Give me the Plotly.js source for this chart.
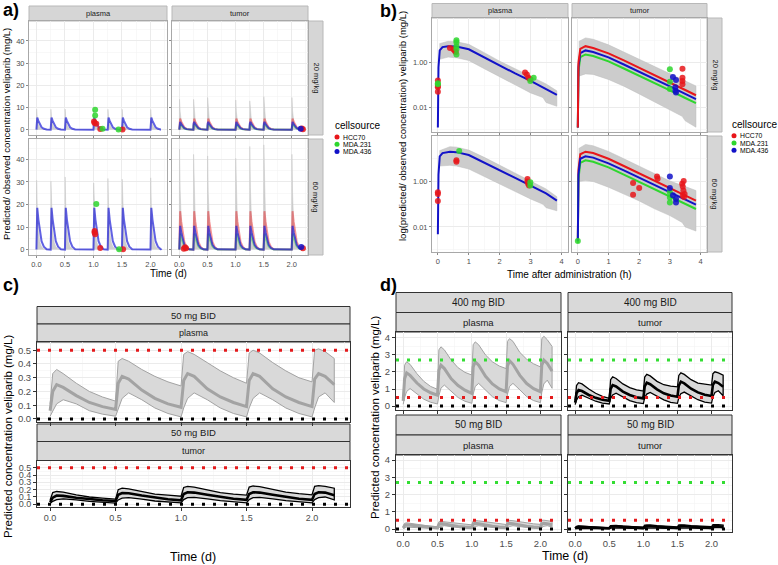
<!DOCTYPE html>
<html>
<head>
<meta charset="utf-8">
<script src="https://cdn.plot.ly/plotly-3.0.1.min.js"></script>
<style>
  html, body { margin: 0; padding: 0; background: #fff; }
  #chart { width: 778px; height: 565px; }
</style>
</head>
<body>
<div id="chart"></div>
<script>
// ---------- a) repeated dosing, predicted vs observed (mg/L) ----------
const aDoseDays = [0, 0.25, 0.5, 1.0, 1.25, 1.5, 2.0];
const aEndDay = 2.17;
const spikeOffsets = [0, 0.004, 0.015, 0.035, 0.06, 0.09, 0.13, 0.18];
const spikeBandShape = [0, 1, 0.6, 0.28, 0.11, 0.04, 0.01, 0];
const spikeLineShape = [0, 0.75, 1, 0.72, 0.42, 0.2, 0.07, 0.01];

const aPlasma20Band = [9.2, 9.2, 9.3, 9.0, 9.2, 9.2, 9.1];
const aPlasma20Line = [5.5, 5.5, 5.5, 5.5, 5.5, 5.5, 5.5];
const aTumor20Band = [13.7, 13.7, 14.5, 13.4, 13.0, 14.9, 14.5];
const aTumor20Red = [5.0, 5.0, 5.0, 5.0, 5.0, 5.0, 5.0];
const aTumor20Blue = [3.5, 3.5, 3.5, 3.5, 3.5, 3.5, 3.5];
const aTumor20Green = [2.5, 2.5, 2.5, 2.5, 2.5, 2.5, 2.5];
const aPlasma60Band = [30.7, 30.3, 32.2, 29.5, 31.5, 31.2, 31.8];
const aPlasma60Line = [18.5, 18.5, 18.5, 18.5, 18.5, 18.5, 18.5];
const aTumor60Band = [44.5, 42.2, 41.5, 40.4, 45.7, 46.4, 42.2];
const aTumor60Red = [17, 17, 17, 17, 17, 17, 17];
const aTumor60Blue = [10.5, 10.5, 10.5, 10.5, 10.5, 10.5, 10.5];
const aTumor60Green = [7, 7, 7, 7, 7, 7, 7];

const aObsP20RedT = [1.01, 1.02, 1.05, 1.12, 1.51];
const aObsP20RedY = [3.7, 3.0, 2.7, 0.3, 0.1];
const aObsP20GreenT = [1.03, 1.03, 1.16, 1.44];
const aObsP20GreenY = [9.0, 6.4, 0.4, 0.1];
const aObsP60RedT = [1.02, 1.02, 1.03, 1.12, 1.52];
const aObsP60RedY = [8.2, 7.6, 6.8, 0.7, 0.1];
const aObsP60GreenT = [1.05, 1.45];
const aObsP60GreenY = [20.2, 0.2];
const aObsT20RedT = [2.18, 2.2];
const aObsT20RedY = [0.5, 0.2];
const aObsT20BlueT = [2.16];
const aObsT20BlueY = [0.4];
const aObsT60RedT = [0.08, 0.1, 0.12, 2.2];
const aObsT60RedY = [0.4, 1.0, 0.6, 0.6];
const aObsT60BlueT = [2.17];
const aObsT60BlueY = [1.2];

// ---------- b) single dose, log scale (mg/L vs h) ----------
const bP20LineT = [0, 0.02, 0.06, 0.15, 0.33, 0.6, 1, 1.5, 2, 2.5, 3, 3.5, 3.85];
const bP20Line = [0.00126, 0.63, 3.55, 5.0, 5.5, 5.25, 3.98, 1.74, 0.71, 0.33, 0.155, 0.069, 0.036];
const bP20UpT = [0.05, 0.33, 0.6, 1, 1.5, 2, 2.5, 3, 3.5, 3.85];
const bP20Up = [7.08, 9.12, 8.71, 6.61, 2.82, 1.17, 0.54, 0.25, 0.112, 0.055];
const bP20LoT = [0.05, 0.33, 0.6, 1, 1.5, 2, 2.5, 3, 3.4, 3.5, 3.85];
const bP20Lo = [1.41, 1.78, 1.66, 1.26, 0.54, 0.224, 0.1, 0.0447, 0.0275, 0.0166, 0.0112];

const bP60LineT = [0, 0.02, 0.06, 0.15, 0.39, 0.6, 1, 1.5, 2, 2.5, 3, 3.5, 3.85];
const bP60Line = [0.0048, 2.0, 12.6, 17.8, 20.4, 19.5, 14.5, 6.9, 3.1, 1.45, 0.66, 0.3, 0.145];
const bP60UpT = [0.05, 0.39, 0.6, 1, 1.5, 2, 2.5, 3, 3.5, 3.85];
const bP60Up = [22.4, 33.9, 32.4, 24.0, 11.5, 5.25, 2.4, 1.07, 0.47, 0.214];
const bP60LoT = [0.05, 0.39, 0.6, 1, 1.5, 2, 2.5, 3, 3.4, 3.5, 3.85];
const bP60Lo = [4.79, 5.13, 4.79, 3.55, 1.66, 0.79, 0.363, 0.17, 0.1, 0.0708, 0.0513];

const bTumorLineT = [0, 0.02, 0.08, 0.25, 0.5, 1, 1.5, 2, 2.5, 3, 3.5, 3.85];
const bT20Red = [0.00126, 1.0, 4.17, 5.5, 4.57, 2.63, 1.26, 0.6, 0.28, 0.13, 0.06, 0.035];
const bT20Blue = [0.00126, 0.63, 2.69, 3.55, 3.02, 1.74, 0.83, 0.4, 0.186, 0.087, 0.04, 0.0234];
const bT20Green = [0.00126, 0.4, 1.78, 2.34, 2.0, 1.15, 0.55, 0.263, 0.123, 0.0575, 0.0263, 0.0155];
const bTumorUpT = [0.03, 0.25, 0.5, 1, 1.5, 2, 2.5, 3, 3.5, 3.85];
const bT20Up = [8.9, 12.9, 11.2, 6.3, 3.0, 1.45, 0.68, 0.316, 0.151, 0.091];
const bTumorLoT = [0.03, 0.25, 0.5, 1, 1.5, 2, 2.5, 3, 3.4, 3.5, 3.85];
const bT20Lo = [0.25, 0.316, 0.3, 0.178, 0.089, 0.04, 0.0178, 0.0079, 0.004, 0.0025, 0.0013];
const bT60Red = [0.0024, 3.16, 15.8, 20.4, 17.8, 10.0, 4.79, 2.29, 1.07, 0.5, 0.24, 0.145];
const bT60Blue = [0.0024, 2.0, 10.0, 12.9, 11.2, 6.3, 3.09, 1.48, 0.69, 0.324, 0.158, 0.0955];
const bT60Green = [0.002, 1.26, 6.6, 8.5, 7.4, 4.17, 2.0, 0.955, 0.447, 0.209, 0.102, 0.0617];
const bT60Up = [28.2, 42.7, 37.2, 20.9, 10.0, 4.79, 2.24, 1.05, 0.6, 0.4];
const bT60Lo = [1.0, 1.1, 1.0, 0.56, 0.28, 0.14, 0.063, 0.0316, 0.0158, 0.01, 0.0066];

const bObsP20RedT = [0, 0, 0, 0, 0.39, 0.5, 0.55, 0.58, 2.82, 2.88, 2.93, 2.99];
const bObsP20RedY = [0.16, 0.08, 0.05, 0.09, 4.6, 4.0, 3.3, 3.0, 0.36, 0.3, 0.21, 0.18];
const bObsP20GreenT = [0, 0, 0.6, 0.6, 0.6, 0.6, 0.6, 2.99, 3.1];
const bObsP20GreenY = [0.12, 0.11, 10, 8.3, 5.5, 4.0, 2.3, 0.15, 0.21];
const bObsP60RedT = [0, 0, 0, 0.6, 0.6, 2.9, 2.9, 2.92, 2.95];
const bObsP60RedY = [0.34, 0.28, 0.14, 8.5, 7.3, 1.3, 1.0, 0.8, 0.66];
const bObsP60GreenT = [0.69, 2.99, 2.99];
const bObsP60GreenY = [22, 0.93, 0.66];
const bObsT20RedT = [3.41, 3.41, 3.41, 3.41];
const bObsT20RedY = [0.54, 0.21, 0.15, 0.11];
const bObsT20GreenT = [3.0, 3.0, 3.0];
const bObsT20GreenY = [0.51, 0.14, 0.066];
const bObsT20BlueT = [3.1, 3.2, 3.18, 3.18, 3.2];
const bObsT20BlueY = [0.23, 0.17, 0.08, 0.055, 0.047];
const bObsT60RedT = [1.8, 1.8, 2.0, 2.58, 2.6, 3.4, 3.45, 3.42, 3.44, 3.48, 3.46, 3.42];
const bObsT60RedY = [0.85, 0.26, 0.52, 1.66, 1.32, 0.8, 1.05, 0.6, 0.4, 0.28, 0.21, 0.24];
const bObsT60GreenT = [3.0, 3.0, 3.0, 0];
const bObsT60GreenY = [0.34, 0.2, 0.12, 0.0024];
const bObsT60BlueT = [3.0, 3.0, 3.1, 3.2, 3.2];
const bObsT60BlueY = [1.66, 0.52, 0.25, 0.17, 0.12];

// ---------- c) / d) BID simulations (mg/L vs d) ----------
const bidTime = [0, 0.02, 0.05, 0.1, 0.2, 0.3, 0.4,
  0.5, 0.52, 0.55, 0.6, 0.7, 0.8, 0.9,
  1.0, 1.02, 1.05, 1.1, 1.2, 1.3, 1.4,
  1.5, 1.52, 1.55, 1.6, 1.7, 1.8, 1.9,
  2.0, 2.02, 2.05, 2.1, 2.17];

const p50Median = [0.06, 0.2, 0.25, 0.23, 0.17, 0.12, 0.09,
  0.07, 0.26, 0.31, 0.29, 0.21, 0.15, 0.11,
  0.085, 0.28, 0.33, 0.31, 0.22, 0.16, 0.12,
  0.09, 0.28, 0.33, 0.31, 0.22, 0.16, 0.12,
  0.09, 0.29, 0.33, 0.31, 0.25];
const p50Upper = [0.11, 0.33, 0.36, 0.33, 0.26, 0.2, 0.16,
  0.13, 0.42, 0.44, 0.42, 0.36, 0.31, 0.27,
  0.24, 0.47, 0.49, 0.47, 0.41, 0.35, 0.3,
  0.26, 0.48, 0.5, 0.48, 0.41, 0.35, 0.3,
  0.27, 0.5, 0.51, 0.49, 0.44];
const p50Lower = [0.02, 0.06, 0.11, 0.14, 0.11, 0.06, 0.035,
  0.02, 0.08, 0.15, 0.19, 0.14, 0.08, 0.04,
  0.015, 0.08, 0.15, 0.19, 0.14, 0.08, 0.04,
  0.015, 0.08, 0.15, 0.19, 0.14, 0.08, 0.04,
  0.015, 0.08, 0.16, 0.19, 0.12];

const t50Median = [0.03, 0.09, 0.12, 0.115, 0.09, 0.07, 0.055,
  0.045, 0.13, 0.155, 0.15, 0.12, 0.09, 0.07,
  0.055, 0.14, 0.165, 0.16, 0.13, 0.1, 0.075,
  0.06, 0.14, 0.165, 0.16, 0.13, 0.1, 0.075,
  0.06, 0.14, 0.165, 0.16, 0.125];
const t50Upper = [0.06, 0.16, 0.175, 0.165, 0.13, 0.1, 0.085,
  0.07, 0.2, 0.22, 0.21, 0.17, 0.14, 0.125,
  0.11, 0.23, 0.245, 0.235, 0.195, 0.16, 0.14,
  0.125, 0.235, 0.25, 0.24, 0.2, 0.165, 0.145,
  0.13, 0.245, 0.255, 0.245, 0.22];
const t50Lower = [0.01, 0.04, 0.065, 0.075, 0.06, 0.04, 0.025,
  0.015, 0.06, 0.085, 0.09, 0.07, 0.045, 0.03,
  0.02, 0.065, 0.09, 0.095, 0.075, 0.05, 0.032,
  0.02, 0.065, 0.09, 0.095, 0.075, 0.05, 0.032,
  0.02, 0.065, 0.09, 0.1, 0.06];

const p400Median = [0.3, 1.6, 1.95, 1.8, 1.35, 1.0, 0.78,
  0.64, 2.1, 2.4, 2.2, 1.6, 1.2, 0.93,
  0.74, 2.3, 2.6, 2.4, 1.75, 1.3, 1.0,
  0.84, 2.35, 2.66, 2.45, 1.8, 1.32, 1.02,
  0.84, 2.4, 2.7, 2.5, 2.05];
const p400Upper = [0.5, 2.4, 2.6, 2.45, 1.9, 1.45, 1.15,
  0.98, 3.3, 3.48, 3.3, 2.7, 2.25, 1.98,
  1.82, 3.6, 3.77, 3.6, 3.0, 2.6, 2.35,
  2.2, 3.8, 3.96, 3.8, 3.15, 2.75, 2.48,
  2.3, 3.95, 4.1, 3.9, 3.5];
const p400Lower = [0.1, 0.5, 0.85, 1.03, 0.7, 0.4, 0.22,
  0.12, 0.6, 1.05, 1.23, 0.85, 0.5, 0.28,
  0.16, 0.7, 1.15, 1.33, 0.95, 0.55, 0.32,
  0.2, 0.7, 1.15, 1.33, 0.95, 0.55, 0.32,
  0.2, 0.8, 1.3, 1.52, 1.04];

const t400Median = [0.2, 0.75, 0.94, 0.88, 0.65, 0.48, 0.37,
  0.31, 1.0, 1.23, 1.15, 0.85, 0.65, 0.52,
  0.45, 1.15, 1.37, 1.28, 0.98, 0.75, 0.62,
  0.55, 1.2, 1.43, 1.33, 1.02, 0.8, 0.66,
  0.59, 1.25, 1.43, 1.35, 1.13];
const t400Upper = [0.35, 1.2, 1.37, 1.3, 1.0, 0.75, 0.57,
  0.45, 1.55, 1.72, 1.62, 1.3, 1.08, 0.95,
  0.88, 1.7, 1.86, 1.77, 1.45, 1.25, 1.17,
  1.13, 1.8, 1.95, 1.86, 1.55, 1.35, 1.27,
  1.23, 1.9, 2.01, 1.95, 1.82];
const t400Lower = [0.08, 0.35, 0.55, 0.64, 0.45, 0.28, 0.17,
  0.12, 0.45, 0.65, 0.75, 0.52, 0.32, 0.2,
  0.14, 0.5, 0.7, 0.8, 0.57, 0.36, 0.22,
  0.16, 0.5, 0.72, 0.82, 0.58, 0.37, 0.23,
  0.17, 0.55, 0.8, 0.9, 0.6];

const cThresholds = [0.5, 0];
const cThresholdColors = ['#e41a1c', '#000000'];
const dThresholds = [2.7, 0.5, 0];
const dThresholdColors = ['#33dd33', '#e41a1c', '#000000'];

const cellsources = ['HCC70', 'MDA.231', 'MDA.436'];
const cellColors = ['#e8161a', '#2ed62e', '#1212c8'];
const cellFade = ['rgba(232,22,26,0.45)', 'rgba(46,214,46,0.45)', 'rgba(30,30,215,0.7)'];

// ---------- helpers ----------
const W = 778, H = 565;
const FONT = 'Liberation Sans, Arial, sans-serif';
const px = v => v / W;
const py = v => 1 - v / H;

function spikeSeries(peaks, shape) {
  const x = [], y = [];
  aDoseDays.forEach((d, i) => {
    spikeOffsets.forEach((o, k) => { x.push(d + o); y.push(peaks[i] * shape[k]); });
  });
  x.push(aEndDay); y.push(0);
  return { x, y };
}

function band(xu, yu, xl, yl) {
  return { x: xu.concat(xl.slice().reverse()), y: yu.concat(yl.slice().reverse()) };
}

const traces = [];
function ax(n) { return n === 1 ? '' : String(n); }

function addSpikes(n, bandPeaks, lines) {
  const b = spikeSeries(bandPeaks, spikeBandShape);
  traces.push({ x: b.x, y: b.y, xaxis: 'x' + ax(n), yaxis: 'y' + ax(n), mode: 'lines',
    fill: 'tozeroy', fillcolor: '#cecece', line: { color: '#c6c6c6', width: 0.5 }, hoverinfo: 'skip' });
  lines.forEach(([peaks, ci]) => {
    const s = spikeSeries(peaks, spikeLineShape);
    traces.push({ x: s.x, y: s.y, xaxis: 'x' + ax(n), yaxis: 'y' + ax(n), mode: 'lines',
      line: { color: cellFade[ci], width: 2 }, hoverinfo: 'skip' });
  });
}

function addPoints(n, t, y, ci, size) {
  traces.push({ x: t, y: y, xaxis: 'x' + ax(n), yaxis: 'y' + ax(n), mode: 'markers',
    marker: { color: cellColors[ci], size: size, opacity: 0.85 }, hoverinfo: 'skip' });
}

function addBand(n, xu, yu, xl, yl, fill, edge, ew) {
  const b = band(xu, yu, xl, yl);
  traces.push({ x: b.x, y: b.y, xaxis: 'x' + ax(n), yaxis: 'y' + ax(n), mode: 'lines',
    fill: 'toself', fillcolor: fill, line: { color: edge, width: ew }, hoverinfo: 'skip' });
}

function addLine(n, t, y, color, w) {
  traces.push({ x: t, y: y, xaxis: 'x' + ax(n), yaxis: 'y' + ax(n), mode: 'lines',
    line: { color: color, width: w }, hoverinfo: 'skip' });
}

// a)
addSpikes(1, aPlasma20Band, [[aPlasma20Line, 2]]);
addSpikes(2, aTumor20Band, [[aTumor20Red, 0], [aTumor20Green, 1], [aTumor20Blue, 2]]);
addSpikes(3, aPlasma60Band, [[aPlasma60Line, 2]]);
addSpikes(4, aTumor60Band, [[aTumor60Red, 0], [aTumor60Green, 1], [aTumor60Blue, 2]]);
addPoints(1, aObsP20RedT, aObsP20RedY, 0, 6);
addPoints(1, aObsP20GreenT, aObsP20GreenY, 1, 6);
addPoints(3, aObsP60RedT, aObsP60RedY, 0, 6);
addPoints(3, aObsP60GreenT, aObsP60GreenY, 1, 6);
addPoints(2, aObsT20RedT, aObsT20RedY, 0, 6);
addPoints(2, aObsT20BlueT, aObsT20BlueY, 2, 6);
addPoints(4, aObsT60RedT, aObsT60RedY, 0, 6);
addPoints(4, aObsT60BlueT, aObsT60BlueY, 2, 6);

// b)
addBand(5, bP20UpT, bP20Up, bP20LoT, bP20Lo, '#cccccc', '#bdbdbd', 0.5);
addLine(5, bP20LineT, bP20Line, cellColors[2], 2);
addBand(7, bP60UpT, bP60Up, bP60LoT, bP60Lo, '#cccccc', '#bdbdbd', 0.5);
addLine(7, bP60LineT, bP60Line, cellColors[2], 2);
addBand(6, bTumorUpT, bT20Up, bTumorLoT, bT20Lo, '#cccccc', '#bdbdbd', 0.5);
addLine(6, bTumorLineT, bT20Green, cellColors[1], 2);
addLine(6, bTumorLineT, bT20Blue, cellColors[2], 2);
addLine(6, bTumorLineT, bT20Red, cellColors[0], 2);
addBand(8, bTumorUpT, bT60Up, bTumorLoT, bT60Lo, '#cccccc', '#bdbdbd', 0.5);
addLine(8, bTumorLineT, bT60Red, cellColors[0], 2);
addLine(8, bTumorLineT, bT60Green, cellColors[1], 2);
addLine(8, bTumorLineT, bT60Blue, cellColors[2], 2);
addPoints(5, bObsP20RedT, bObsP20RedY, 0, 6);
addPoints(5, bObsP20GreenT, bObsP20GreenY, 1, 6);
addPoints(7, bObsP60RedT, bObsP60RedY, 0, 6);
addPoints(7, bObsP60GreenT, bObsP60GreenY, 1, 6);
addPoints(6, bObsT20RedT, bObsT20RedY, 0, 6);
addPoints(6, bObsT20GreenT, bObsT20GreenY, 1, 6);
addPoints(6, bObsT20BlueT, bObsT20BlueY, 2, 6);
addPoints(8, bObsT60RedT, bObsT60RedY, 0, 6);
addPoints(8, bObsT60GreenT, bObsT60GreenY, 1, 6);
addPoints(8, bObsT60BlueT, bObsT60BlueY, 2, 6);

// c) and d)
function addBid(n, upper, lower, median, black) {
  const edge = black ? '#000000' : '#a3a3a3';
  addBand(n, bidTime, upper, bidTime, lower, '#d9d9d9', edge, black ? 1.3 : 1);
  addLine(n, bidTime, median, edge, black ? 2.6 : 3);
}
addBid(9, p50Upper, p50Lower, p50Median, false);
addBid(10, t50Upper, t50Lower, t50Median, true);
addBid(11, p400Upper, p400Lower, p400Median, false);
addBid(12, t400Upper, t400Lower, t400Median, true);
addBid(13, p50Upper, p50Lower, p50Median, false);
addBid(14, t50Upper, t50Lower, t50Median, true);

// ---------- layout ----------
const boxes = {
  1: [29, 167, 21, 135], 2: [172, 308, 21, 135], 3: [29, 167, 139, 255], 4: [172, 308, 139, 255],
  5: [432, 568, 18, 132], 6: [572, 707, 18, 132], 7: [432, 568, 136, 252], 8: [572, 707, 136, 252],
  9: [37, 350, 342, 422], 10: [37, 350, 460.5, 506.5],
  11: [396, 561, 332, 410], 12: [568, 732, 332, 410], 13: [396, 561, 455, 532], 14: [568, 732, 455, 532]
};

const layout = {
  width: W, height: H, margin: { l: 0, r: 0, t: 0, b: 0 },
  paper_bgcolor: '#ffffff', plot_bgcolor: '#ffffff',
  showlegend: false, font: { family: FONT, color: '#1a1a1a' },
  shapes: [], annotations: []
};

function axisBase(light, fs) {
  return {
    showgrid: true, gridcolor: '#ebebeb', gridwidth: 1, zeroline: false,
    showline: true, mirror: true, linecolor: light ? '#a8a8a8' : '#333333', linewidth: 1,
    ticks: 'outside', ticklen: light ? 2 : 3, tickcolor: light ? '#8a8a8a' : '#333333', tickwidth: 1,
    tickfont: { family: FONT, size: fs, color: '#4d4d4d' }, fixedrange: true
  };
}

function setAxes(n, xo, yo, light, fs) {
  const b = boxes[n];
  layout['xaxis' + ax(n)] = Object.assign(axisBase(light, fs), {
    domain: [px(b[0]), px(b[1])], anchor: 'y' + ax(n)
  }, xo);
  layout['yaxis' + ax(n)] = Object.assign(axisBase(light, fs), {
    domain: [py(b[3]), py(b[2])], anchor: 'x' + ax(n)
  }, yo);
}

const minorFaint = (d) => ({ dtick: d, showgrid: true, gridcolor: '#f3f3f3', gridwidth: 0.6, ticks: '' });

[1, 2, 3, 4].forEach(n => setAxes(n,
  { range: [-0.13, 2.29], tick0: 0, dtick: 0.5, tickformat: '.1f', minor: minorFaint(0.25), showticklabels: n >= 3 },
  { range: [-2.4, 49], tick0: 0, dtick: 10, minor: minorFaint(5), showticklabels: n % 2 === 1 },
  true, 7.5));

[5, 6, 7, 8].forEach(n => setAxes(n,
  { range: [-0.19, 4.21], tick0: 0, dtick: 1, minor: minorFaint(0.5), showticklabels: n >= 7 },
  { type: 'log', range: [-3.1, 2.0], tickmode: 'array', tickvals: [0.01, 1], ticktext: ['0.01', '1.00'],
    minor: { tickmode: 'array', tickvals: [0.001, 0.1, 10], showgrid: true, gridcolor: '#f3f3f3', gridwidth: 0.6, ticks: '' },
    showticklabels: n % 2 === 1 },
  true, 7.5));

setAxes(9, { range: [-0.1, 2.29], tick0: 0, dtick: 0.5, tickformat: '.1f', minor: minorFaint(0.25), showticklabels: false },
  { range: [-0.022, 0.56], tick0: 0, dtick: 0.1, tickformat: '.1f', minor: minorFaint(0.05) }, false, 9.5);
setAxes(10, { range: [-0.1, 2.29], tick0: 0, dtick: 0.5, tickformat: '.1f', minor: minorFaint(0.25) },
  { range: [-0.03, 0.598], tick0: 0, dtick: 0.1, tickformat: '.1f', minor: minorFaint(0.05) }, false, 9);
[11, 12, 13, 14].forEach(n => setAxes(n,
  { range: [-0.105, 2.3], tick0: 0, dtick: 0.5, tickformat: '.1f', minor: minorFaint(0.25), showticklabels: n >= 13 },
  { range: n <= 12 ? [-0.234, 4.35] : [-0.174, 4.29], tick0: 0, dtick: 1, minor: minorFaint(0.5), showticklabels: n % 2 === 1 },
  false, 9.5));

// threshold dotted lines
function thresholdLines(n, vals, cols) {
  vals.forEach((v, i) => layout.shapes.push({
    type: 'line', xref: 'x' + ax(n) + ' domain', x0: 0, x1: 1, yref: 'y' + ax(n), y0: v, y1: v,
    line: { color: cols[i], width: 3, dash: '3px,8px' }, layer: 'above'
  }));
}
thresholdLines(9, cThresholds, cThresholdColors);
thresholdLines(10, cThresholds, cThresholdColors);
[11, 12, 13, 14].forEach(n => thresholdLines(n, dThresholds, dThresholdColors));

// strips
function strip(x0, x1, y0, y1, text, light, fs, vertical) {
  layout.shapes.push({ type: 'rect', xref: 'paper', yref: 'paper', x0: px(x0), x1: px(x1), y0: py(y1), y1: py(y0),
    fillcolor: light ? '#d6d6d6' : '#d9d9d9', line: { color: light ? '#b8b8b8' : '#333333', width: 1 }, layer: 'below' });
  layout.annotations.push({ xref: 'paper', yref: 'paper', x: px((x0 + x1) / 2), y: py((y0 + y1) / 2),
    text: text, showarrow: false, textangle: vertical ? 90 : 0,
    font: { family: FONT, size: fs, color: '#1a1a1a' }, xanchor: 'center', yanchor: 'middle' });
}
strip(29, 167, 6, 21, 'plasma', true, 7.5);
strip(172, 308, 6, 21, 'tumor', true, 7.5);
strip(308, 323, 21, 135, '20 mg/kg', true, 7.5, true);
strip(308, 323, 139, 255, '60 mg/kg', true, 7.5, true);
strip(432, 568, 3.5, 18, 'plasma', true, 7.5);
strip(572, 707, 3.5, 18, 'tumor', true, 7.5);
strip(707, 722, 18, 132, '20 mg/kg', true, 7.5, true);
strip(707, 722, 136, 252, '60 mg/kg', true, 7.5, true);
strip(37, 350, 306.5, 324, '50 mg BID', false, 9.5);
strip(37, 350, 324, 342, 'plasma', false, 9);
strip(37, 350, 424, 441.5, '50 mg BID', false, 9.5);
strip(37, 350, 441.5, 460.5, 'tumor', false, 9);
strip(396, 561, 292.5, 312.5, '400 mg BID', false, 10);
strip(396, 561, 312.5, 332, 'plasma', false, 9.5);
strip(568, 732, 292.5, 312.5, '400 mg BID', false, 10);
strip(568, 732, 312.5, 332, 'tumor', false, 9.5);
strip(396, 561, 415, 435, '50 mg BID', false, 10);
strip(396, 561, 435, 455, 'plasma', false, 9.5);
strip(568, 732, 415, 435, '50 mg BID', false, 10);
strip(568, 732, 435, 455, 'tumor', false, 9.5);

// texts: panel letters and axis titles
function label(x, y, text, size, opts) {
  layout.annotations.push(Object.assign({ xref: 'paper', yref: 'paper', x: px(x), y: py(y), text: text,
    showarrow: false, xanchor: 'center', yanchor: 'middle',
    font: { family: FONT, size: size, color: '#000000' } }, opts || {}));
}
label(1, 10, '<b>a)</b>', 18, { xanchor: 'left' });
label(378, 11, '<b>b)</b>', 18, { xanchor: 'left' });
label(1, 285, '<b>c)</b>', 18, { xanchor: 'left' });
label(378, 285, '<b>d)</b>', 18, { xanchor: 'left' });

label(7, 134, 'Predicted/ observed concentration veliparib (mg/L)', 9.5, { textangle: -90 });
label(168, 273.5, 'Time (d)', 10);
label(403, 126, 'log(predicted/ observed concentration) veliparib (mg/L)', 9.5, { textangle: -90 });
label(569, 274, 'Time after administration (h)', 10);
label(8, 437, 'Predicted concentration veliparib (mg/L)', 11.5, { textangle: -90 });
label(193, 557, 'Time (d)', 12.5);
label(375, 418, 'Predicted concentration veliparib (mg/L)', 11.5, { textangle: -90 });
label(565, 556, 'Time (d)', 12.5);

// legends
function legend(x, y, itemYs) {
  label(x, y, 'cellsource', 10, { xanchor: 'left' });
  cellsources.forEach((name, i) => {
    layout.shapes.push({ type: 'circle', xref: 'paper', yref: 'paper',
      x0: px(x + 1.5), x1: px(x + 6.5), y0: py(itemYs[i] + 2.5), y1: py(itemYs[i] - 2.5),
      fillcolor: cellColors[i], line: { width: 0 } });
    label(x + 8, itemYs[i], name, 6.8, { xanchor: 'left' });
  });
}
legend(333, 126, [137, 144.2, 151.4]);
legend(730, 124.5, [135.8, 143, 150.2]);

Plotly.newPlot('chart', traces, layout, { displayModeBar: false, staticPlot: true });
</script>
</body>
</html>
